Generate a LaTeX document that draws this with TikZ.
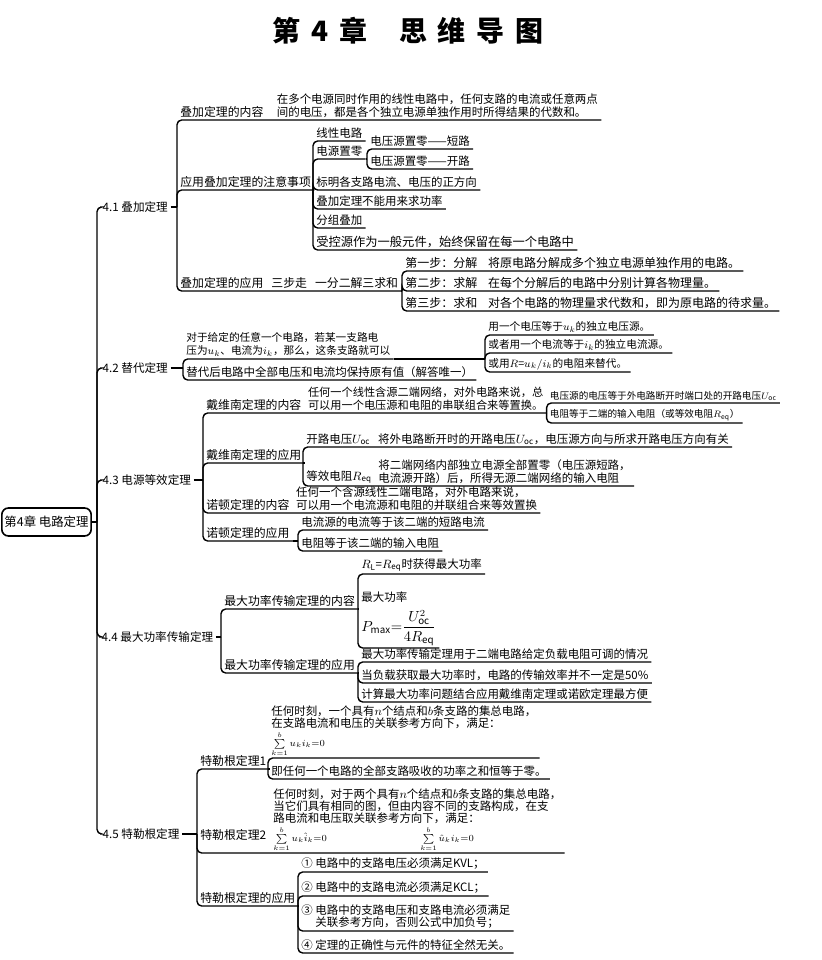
\documentclass[tikz,border=0pt]{standalone}
\usepackage{fontspec}
\usepackage{amsmath}
\setmainfont{Noto Sans CJK SC}
\usetikzlibrary{positioning, calc}
\newcommand{\sumfont}{\fontsize{7.2}{8}\selectfont}
\tikzset{
  every picture/.style={line width=1.05pt},
  rootbox/.style={draw, rounded corners=5pt, line width=1.2pt, minimum width=62pt, minimum height=21pt, inner sep=2pt, font=\fontsize{9.3}{11}\selectfont},
  topic/.style={anchor=west, inner sep=1.5pt, font=\fontsize{8.7}{11}\selectfont},
  leaf/.style={anchor=south west, inner xsep=2pt, inner ysep=1.2pt, align=left, font=\fontsize{8.6}{9.6}\selectfont},
  head/.style={leaf, font=\fontsize{8.9}{10.5}\selectfont},
  tinyleaf/.style={leaf, font=\fontsize{7.2}{9}\selectfont},
  tightleaf/.style={leaf, inner ysep=0.6pt, font=\fontsize{8.6}{9}\selectfont},
  link/.style={rounded corners=3.5pt},
}
\begin{document}
\begin{tikzpicture}[x=0.75pt, y=-0.75pt]
  \useasboundingbox (0,0) rectangle (821,960);
  % title
  \node[font=\fontsize{21}{24}\selectfont\bfseries] (title) at (408,31) {第\hspace{8pt}4\hspace{8pt}章\hspace{24pt}思\hspace{8pt}维\hspace{8pt}导\hspace{8pt}图};
  % root and chapter sections
  \node[rootbox] (root) at (46.5,522) {第4章 电路定理};
  \coordinate (j0) at (97,522);
  \draw (root.east) -- (j0);
  \node[topic] (t41) at (100,207) {4.1 叠加定理};
  \node[topic] (t42) at (100,368) {4.2 替代定理};
  \node[topic] (t43) at (100,480) {4.3 电源等效定理};
  \node[topic] (t44) at (99,637) {4.4 最大功率传输定理};
  \node[topic] (t45) at (100,834) {4.5 特勒根定理};
  \foreach \n in {t41,t42,t43,t44,t45} \draw[link] (j0) |- (\n.west);
  % 4.1
  \coordinate (j41) at (177,207);
  \draw (t41.east) -- (j41);
  \node[head] (t41a) at (177,120) {叠加定理的内容};
  \node[leaf, xshift=5pt] (t41a1) at (t41a.south east) {在多个电源同时作用的线性电路中，任何支路的电流或任意两点\\间的电压，都是各个独立电源单独作用时所得结果的代数和。};
  \node[head] (t41b) at (177,190) {应用叠加定理的注意事项};
  \node[head] (t41c) at (177,291) {叠加定理的应用\hspace{6pt}三步走\hspace{6pt}一分二解三求和};
  \foreach \n in {t41a1,t41b,t41c} \draw[link] (j41) |- (\n.south east);
  \coordinate (j41b) at (313,190);
  \draw (t41b.south east) -- (j41b);
  \node[leaf] (t41b1) at (313,141) {线性电路};
  \node[leaf] (t41b2) at (313,159) {电源置零};
  \node[leaf] (t41b3) at (313,190) {标明各支路电流、电压的正方向};
  \node[leaf] (t41b4) at (313,209) {叠加定理不能用来求功率};
  \node[leaf] (t41b5) at (313,228) {分组叠加};
  \node[leaf, font=\fontsize{9.2}{10}\selectfont] (t41b6) at (313,250) {受控源作为一般元件，始终保留在每一个电路中};
  \foreach \i in {1,...,6} \draw[link] (j41b) |- (t41b\i.south east);
  \coordinate (j41b2) at (367,159);
  \draw (t41b2.south east) -- (j41b2);
  \node[leaf] (t41b2a) at (367,149) {电压源置零——短路};
  \node[leaf] (t41b2b) at (367,169) {电压源置零——开路};
  \foreach \n in {t41b2a,t41b2b} \draw[link] (j41b2) |- (\n.south east);
  \coordinate (j41c) at (402,291);
  \draw (t41c.south east) -- (j41c);
  \node[leaf, font=\fontsize{9}{10}\selectfont] (t41c1) at (402,271) {第一步：分解\hspace{8pt}将原电路分解成多个独立电源单独作用的电路。};
  \node[leaf, font=\fontsize{9}{10}\selectfont] (t41c2) at (402,291) {第二步：求解\hspace{8pt}在每个分解后的电路中分别计算各物理量。};
  \node[leaf, font=\fontsize{9}{10}\selectfont] (t41c3) at (402,311) {第三步：求和\hspace{8pt}对各个电路的物理量求代数和，即为原电路的待求量。};
  \foreach \i in {1,2,3} \draw[link] (j41c) |- (t41c\i.south east);
  % 4.2
  \coordinate (j42) at (183,368);
  \draw (t42.east) -- (j42);
  \node[leaf, font=\fontsize{8}{9.8}\selectfont] (t42a) at (183,359) {对于给定的任意一个电路，若某一支路电\\压为$u_k$、电流为$i_k$，那么，这条支路就可以};
  \node[leaf] (t42b) at (183,380) {替代后电路中全部电压和电流均保持原有值（解答唯一）};
  \foreach \n in {t42a,t42b} \draw[link] (j42) |- (\n.south east);
  \coordinate (j42a) at (485,359);
  \draw (t42a.south east) -- (j42a);
  \node[leaf, font=\fontsize{8}{10}\selectfont] (t42a1) at (485,335) {用一个电压等于$u_k$的独立电压源。};
  \node[leaf, font=\fontsize{8}{10}\selectfont] (t42a2) at (485,353) {或者用一个电流等于$i_k$的独立电流源。};
  \node[leaf, font=\fontsize{8}{10}\selectfont] (t42a3) at (485,372) {或用$R$=$u_k/i_k$的电阻来替代。};
  \foreach \i in {1,2,3} \draw[link] (j42a) |- (t42a\i.south east);
  % 4.3
  \coordinate (j43) at (203,480);
  \draw (t43.east) -- (j43);
  \node[head] (t43a) at (203,413) {戴维南定理的内容};
  \node[leaf, font=\fontsize{8.4}{9.6}\selectfont] (t43a1) at (t43a.south east) {任何一个线性含源二端网络，对外电路来说，总\\可以用一个电压源和电阻的串联组合来等置换。};
  \node[head] (t43b) at (203,463) {戴维南定理的应用};
  \node[head] (t43c) at (203,513) {诺顿定理的内容};
  \node[leaf] (t43c1) at (t43c.south east) {任何一个含源线性二端电路，对外电路来说，\\可以用一个电流源和电阻的并联组合来等效置换};
  \node[head] (t43d) at (203,541) {诺顿定理的应用};
  \foreach \n in {t43a1,t43b,t43c1,t43d} \draw[link] (j43) |- (\n.south east);
  \coordinate (j43a) at (t43a1.south east);
  \node[tinyleaf] (t43a1a) at ([yshift=7.5pt]j43a) {电压源的电压等于外电路断开时端口处的开路电压$U_{\mathrm{oc}}$};
  \node[tinyleaf] (t43a1b) at ([yshift=-7.5pt]j43a) {电阻等于二端的输入电阻（或等效电阻$R_{\mathrm{eq}}$）};
  \foreach \n in {t43a1a,t43a1b} \draw[link] (j43a) |- (\n.south east);
  \coordinate (j43b) at (303,463);
  \draw (t43b.south east) -- (j43b);
  \node[leaf] (t43b1) at (303,447) {开路电压$U_{\mathrm{oc}}$\hspace{6pt}将外电路断开时的开路电压$U_{\mathrm{oc}}$，电压源方向与所求开路电压方向有关};
  \node[leaf] (t43b2) at (303,486) {等效电阻$R_{\mathrm{eq}}$};
  \node[leaf] (t43b2a) at (t43b2.south east) {将二端网络内部独立电源全部置零（电压源短路，\\电流源开路）后，所得无源二端网络的输入电阻};
  \foreach \n in {t43b1,t43b2a} \draw[link] (j43b) |- (\n.south east);
  \coordinate (j43d) at (298,541);
  \draw (t43d.south east) -- (j43d);
  \node[leaf] (t43d1) at (298,530) {电流源的电流等于该二端的短路电流};
  \node[leaf] (t43d2) at (298,551) {电阻等于该二端的输入电阻};
  \foreach \i in {1,2} \draw[link] (j43d) |- (t43d\i.south east);
  % 4.4
  \coordinate (j44) at (221,637);
  \draw (t44.east) -- (j44);
  \node[head] (t44a) at (221,609) {最大功率传输定理的内容};
  \node[head] (t44b) at (221,673) {最大功率传输定理的应用};
  \foreach \n in {t44a,t44b} \draw[link] (j44) |- (\n.south east);
  \coordinate (j44a) at (358,609);
  \draw (t44a.south east) -- (j44a);
  \node[leaf] (t44a1) at (358,574) {$R_{\mathrm{L}}$=$R_{\mathrm{eq}}$时获得最大功率};
  \node[leaf] (t44a2) at (358,648) {最大功率\\[5pt]{\fontsize{10.5}{12}\selectfont$P_{\max}{=}\dfrac{U_{\mathrm{oc}}^2}{4R_{\mathrm{eq}}}$}};
  \foreach \i in {1,2} \draw[link] (j44a) |- (t44a\i.south east);
  \coordinate (j44b) at (358,673);
  \draw (t44b.south east) -- (j44b);
  \node[leaf] (t44b1) at (358,662) {最大功率传输定理用于二端电路给定负载电阻可调的情况};
  \node[leaf] (t44b2) at (358,683) {当负载获取最大功率时，电路的传输效率并不一定是50\%};
  \node[leaf] (t44b3) at (358,702) {计算最大功率问题结合应用戴维南定理或诺欧定理最方便};
  \foreach \i in {1,2,3} \draw[link] (j44b) |- (t44b\i.south east);
  % 4.5
  \coordinate (j45) at (197,834);
  \draw (t45.east) -- (j45);
  \node[head] (t45a) at (197,769) {特勒根定理1};
  \node[head] (t45b) at (197,843) {特勒根定理2};
  \node[head] (t45c) at (197,906) {特勒根定理的应用};
  \node[tightleaf] (t45b1) at (270,853) {任何时刻，对于两个具有$n$个结点和$b$条支路的集总电路，\\当它们具有相同的图，但由内容不同的支路构成，在支\\路电流和电压取关联参考方向下，满足：\\[1pt]{\sumfont$\sum\limits_{k=1}^{b}u_k\hat{i}_k{=}0$\hspace{70pt}$\sum\limits_{k=1}^{b}\hat{u}_ki_k{=}0$}};
  \foreach \n in {t45a,t45b1,t45c} \draw[link] (j45) |- (\n.south east);
  \coordinate (j45a) at (268,769);
  \draw (t45a.south east) -- (j45a);
  \node[tightleaf] (t45a1) at (268,758) {任何时刻，一个具有$n$个结点和$b$条支路的集总电路，\\在支路电流和电压的关联参考方向下，满足：\\[1pt]{\sumfont$\sum\limits_{k=1}^{b}u_ki_k{=}0$}};
  \node[leaf] (t45a2) at (268,779) {即任何一个电路的全部支路吸收的功率之和恒等于零。};
  \foreach \i in {1,2} \draw[link] (j45a) |- (t45a\i.south east);
  \coordinate (j45c) at (298,906);
  \draw (t45c.south east) -- (j45c);
  \node[leaf] (t45c1) at (298,872) {① 电路中的支路电压必须满足KVL；};
  \node[leaf] (t45c2) at (298,896) {② 电路中的支路电流必须满足KCL；};
  \node[leaf] (t45c3) at (298,931) {③ 电路中的支路电压和支路电流必须满足\\\phantom{③ }关联参考方向，否则公式中加负号；};
  \node[leaf] (t45c4) at (298,953) {④ 定理的正确性与元件的特征全然无关。};
  \foreach \i in {1,...,4} \draw[link] (j45c) |- (t45c\i.south east);
\end{tikzpicture}
\end{document}
